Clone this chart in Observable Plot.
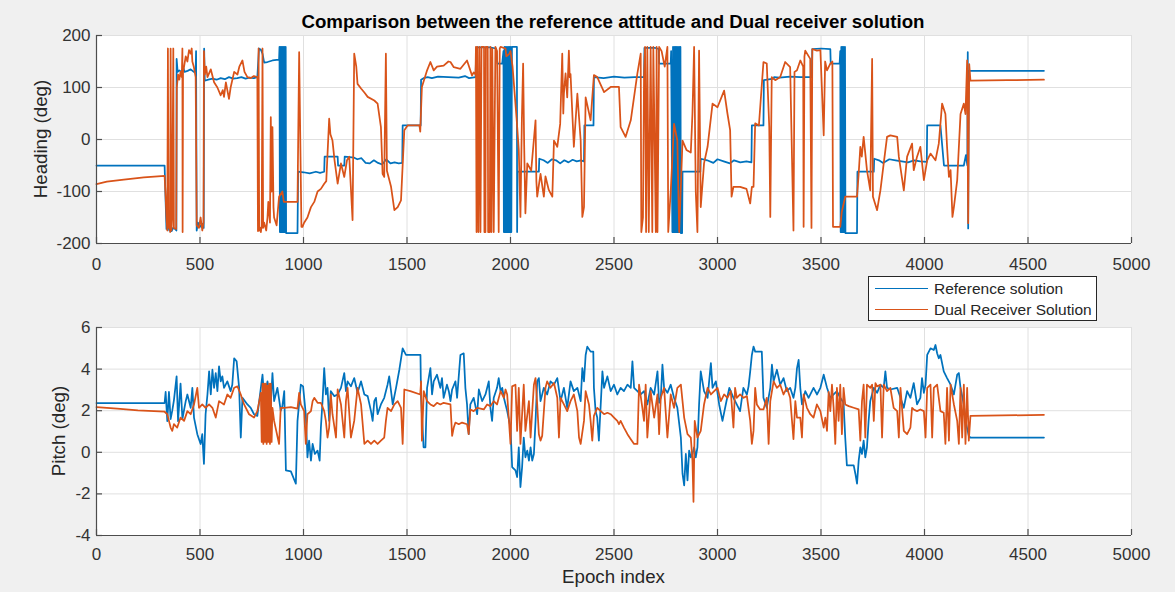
<!DOCTYPE html>
<html>
<head>
<meta charset="utf-8">
<script src="https://cdn.jsdelivr.net/npm/d3@7"></script>
<script src="https://cdn.jsdelivr.net/npm/@observablehq/plot@0.6"></script>
<style>
  html, body { margin: 0; padding: 0; background: #f0f0f0; }
  #fig { position: relative; width: 1175px; height: 592px; background: #f0f0f0; overflow: hidden;
         font-family: "Liberation Sans", Arial, Helvetica, sans-serif; color: #262626; }
  .abs { position: absolute; white-space: nowrap; }
  #title { left: 113px; width: 1000px; top: 11px; text-align: center; font-weight: bold; font-size: 18.7px; line-height: 22px; color: #000; }
  .ylab { font-size: 18.7px; transform: translate(-50%, -50%) rotate(-90deg); line-height: 22px; }
  #xlab { font-size: 18.7px; transform: translate(-50%, -50%); line-height: 22px; left: 613.5px; top: 577px; }
  #legend { left: 868px; top: 276px; width: 229px; height: 45px; background: #fff; border: 1px solid #262626; box-sizing: border-box; font-size: 15.5px; }
  .lrow { position: absolute; left: 0; height: 20px; line-height: 20px; }
  .lline { position: absolute; left: 6px; top: 9px; width: 53px; height: 0; border-top: 1.7px solid; }
  .ltext { position: absolute; left: 65px; top: 0; }
  #top, #bottom { position: absolute; left: 0; }
  #top { top: 0; }
  #bottom { top: 270px; }
</style>
</head>
<body>
<div id="fig">
  <div id="top"></div>
  <div id="bottom"></div>
  <div id="title" class="abs">Comparison between the reference attitude and Dual receiver solution</div>
  <div class="abs ylab" style="left:41px; top:139px;">Heading (deg)</div>
  <div class="abs ylab" style="left:59px; top:431px;">Pitch (deg)</div>
  <div id="xlab" class="abs">Epoch index</div>
  <div id="legend" class="abs"></div>
</div>
<script>
// ---------- tick values ----------
const epochTicks = [0, 500, 1000, 1500, 2000, 2500, 3000, 3500, 4000, 4500, 5000];
const headingTicks = [-200, -100, 0, 100, 200];
const pitchTicks = [-4, -2, 0, 2, 4, 6];

// ---------- legend / series names ----------
const seriesNames = ["Reference solution", "Dual Receiver Solution"];
const seriesColors = ["#0072BD", "#D95319"];

// ---------- Heading: reference solution [epoch, deg] ----------
const headingReference = [
[0,-50],[329,-50],[334,-120],[338,-172],[345,-165],[352,-175],[358,-160],[363,-176],[370,-170],[380,-172],[386,-175],[387,155],[392,130],[400,133],[410,130],[420,138],[425,130],[440,132],[455,135],[470,130],[479,132],[481,170],[484,-175],[490,-160],[500,-168],[510,-162],[518,-170],[520,175],[523,113],[540,115],[560,117],[580,115],[600,118],[620,116],[640,120],[660,117],[680,118],[700,120],[720,117],[740,119],[760,118],[777,120],[785,175],[795,172],[802,165],[810,148],[826,149],[850,152],[870,153],[882,153],
[884,178],[886,-178],[889,178],[891,-178],[894,178],[896,-178],[899,178],[901,-178],[904,178],[906,-178],[909,178],[911,-178],[914,178],[916,-180],
[971,-180],[974,-62],[1000,-63],[1030,-65],[1060,-62],[1080,-64],[1100,-62],[1102,-33],[1165,-33],[1167,-50],[1197,-50],[1199,-33],[1245,-35],[1260,-38],[1280,-36],[1300,-45],[1320,-46],[1340,-40],[1360,-45],[1380,-48],[1400,-38],[1420,-46],[1440,-44],[1460,-46],[1477,-45],[1479,27],[1566,27],
[1568,115],[1580,118],[1600,120],[1620,118],[1650,121],[1700,120],[1750,119],[1780,122],[1800,118],[1831,120],[1835,177],[1900,177],[1930,175],[1937,146],[1960,146],[1966,170],
[1968,-178],[1971,178],[1974,-178],[1977,178],[1980,-178],[1983,178],[1986,-178],[1989,178],[1992,-178],[1995,178],[1998,-178],[2001,178],[2004,-178],[2007,178],
[2031,178],[2032,-178],[2034,-62],[2137,-62],[2139,-37],[2160,-40],[2180,-45],[2200,-38],[2220,-40],[2240,-46],[2260,-40],[2280,-44],[2300,-39],[2320,-42],[2340,-40],[2355,-42],[2357,27],[2401,27],[2403,120],[2450,118],[2500,121],[2550,119],[2600,120],[2645,120],[2647,176],[2700,176],[2716,174],[2718,146],[2774,146],[2776,170],
[2782,-178],[2785,178],[2788,-178],[2791,178],[2794,-178],[2797,178],[2800,-178],[2803,178],[2806,-178],[2809,178],[2812,-178],[2815,178],[2818,-178],[2821,178],
[2823,-180],[2829,-180],[2831,-62],[2917,-62],[2919,-37],[2950,-40],[2980,-45],[3000,-38],[3030,-42],[3060,-46],[3080,-40],[3110,-44],[3140,-42],[3164,-44],[3166,27],[3222,27],[3224,114],[3271,117],[3273,120],[3300,119],[3350,121],[3400,120],[3456,120],[3458,174],[3500,175],[3545,174],[3547,146],[3590,146],[3593,170],
[3595,-178],[3598,178],[3601,-178],[3604,178],[3607,-178],[3610,178],[3613,-178],[3616,178],
[3618,-180],[3674,-180],[3676,-62],[3755,-62],[3757,-37],[3780,-40],[3800,-45],[3830,-38],[3860,-40],[3890,-42],[3920,-44],[3950,-40],[3980,-42],[4011,-43],[4013,27],[4077,27],[4094,-50],[4190,-50],[4200,-30],[4207,-50],[4209,168],[4211,-171],[4214,132],[4577,132]
];

// ---------- Heading: dual receiver solution [epoch, deg] ----------
const headingDual = [
[0,-86],[50,-81],[132,-77],[229,-73],[329,-70],[334,-110],[338,-150],[342,-175],[345,175],[348,-170],[352,-160],[356,-178],[358,175],[362,-175],[366,-150],[371,175],[374,-170],[385,-172],[388,100],[394,125],[400,115],[406,130],[412,120],[415,175],[416,-178],[418,130],[423,140],[431,160],[439,150],[447,172],[455,165],[460,175],[463,150],[470,140],[479,120],[484,-165],[495,-170],[503,-150],[511,-175],[517,-160],[519,170],[523,125],[530,140],[536,120],[552,135],[568,110],[584,100],[600,85],[610,95],[616,82],[625,110],[640,78],[648,100],[665,130],[681,125],[690,140],[705,152],[715,130],[729,120],[745,118],[760,122],[777,120],
[780,-176],[783,175],[786,-175],[790,-170],[794,-178],[798,-165],[802,175],[805,-170],[810,-160],[820,-175],[826,-150],[830,-120],[838,-160],[842,43],[846,-100],[850,24],[855,-130],[858,-150],[870,-165],[882,-110],[898,-100],[905,-120],[971,-120],[979,168],[990,-168],[995,-168],[1003,-160],[1019,-150],[1036,-130],[1052,-120],[1068,-100],[1084,-95],[1100,-85],[1110,-80],[1124,40],[1130,10],[1140,-2],[1150,-40],[1165,-85],[1181,-46],[1197,-72],[1210,-40],[1221,-33],[1237,-155],[1245,165],[1255,140],[1261,107],[1278,98],[1295,90],[1310,82],[1342,75],[1358,69],[1374,24],[1382,-66],[1390,-72],[1398,165],[1403,-60],[1423,-91],[1439,-136],[1455,-130],[1471,-117],[1487,18],[1503,27],[1516,27],[1560,27],[1564,15],[1572,101],[1597,133],[1613,149],[1629,133],[1645,140],[1677,142],[1700,150],[1710,149],[1726,139],[1758,136],[1790,152],[1814,123],[1822,129],[1831,125],
[1833,178],[1836,-178],[1840,178],[1845,-178],[1850,178],[1855,-178],[1860,178],[1872,178],[1874,-178],[1879,-178],[1881,178],[1890,178],[1892,-178],[1900,-178],[1903,178],[1908,-178],[1912,175],[1919,-178],[1927,178],[1935,170],[1943,-178],[1948,175],[1952,178],[1976,175],[1980,160],[1995,165],[2000,170],
[2010,140],[2029,43],[2040,-20],[2048,-149],[2055,40],[2061,146],[2066,-10],[2072,-142],[2081,-46],[2100,-60],[2121,37],[2125,-80],[2129,-110],[2145,-66],[2161,-110],[2169,-71],[2185,-97],[2202,-110],[2210,-2],[2226,-14],[2240,30],[2250,165],[2255,50],[2258,88],[2266,127],[2274,81],[2282,171],[2286,120],[2290,126],[2306,-14],[2323,88],[2339,-2],[2347,-149],[2355,-130],[2363,81],[2387,37],[2403,124],[2419,120],[2452,91],[2484,101],[2524,101],[2532,24],[2556,5],[2581,37],[2597,82],[2613,127],[2629,165],[2632,-178],[2640,-150],[2645,120],[2650,178],[2655,-178],[2661,178],[2668,-178],[2677,178],[2685,-178],[2690,178],[2702,-178],[2706,178],[2710,-178],[2718,178],[2730,170],[2745,140],[2758,178],[2762,-178],[2774,-100],[2790,30],[2806,-2],[2815,-178],[2831,-2],[2850,-20],[2871,-25],[2879,50],[2887,178],[2895,-100],[2903,-178],[2911,171],[2919,-130],[2935,-46],[2952,-14],[2976,69],[3000,62],[3032,94],[3048,50],[3061,18],[3068,-110],[3077,-91],[3109,-91],[3140,-95],[3158,-123],[3166,-91],[3174,-91],[3182,31],[3200,27],[3222,149],[3238,146],[3250,24],[3255,-149],[3262,120],[3279,114],[3303,120],[3327,149],[3351,139],[3367,-175],[3372,130],[3384,133],[3400,152],[3414,140],[3416,-168],[3420,160],[3424,171],[3448,155],[3454,-170],[3458,174],[3480,171],[3497,172],[3513,8],[3520,150],[3529,133],[3545,146],[3555,150],[3558,-168],[3593,-168],[3600,-140],[3617,-110],[3674,-110],[3682,-66],[3690,-14],[3697,-33],[3706,5],[3722,-59],[3738,-98],[3747,155],[3751,-110],[3771,-136],[3787,-98],[3803,-46],[3819,5],[3835,8],[3868,5],[3876,-33],[3900,-98],[3916,-33],[3940,-8],[3948,-59],[3964,-33],[3980,-14],[3997,-78],[4013,-40],[4029,-27],[4053,-40],[4069,-8],[4085,69],[4101,49],[4109,-14],[4118,-72],[4126,-59],[4135,-149],[4142,-130],[4158,-78],[4174,49],[4190,69],[4198,49],[4206,152],[4211,-161],[4216,145],[4222,113],[4400,114],[4577,115]
];

// ---------- Pitch: reference solution [epoch, deg] ----------
const pitchReference = [
[0,2.37],[329,2.37],[334,2.9],[342,1.5],[350,2.9],[358,1.6],[366,2.0],[374,2.5],[387,3.65],[394,1.5],[400,2.4],[406,3.3],[415,1.6],[431,2.46],[439,2.78],[455,2.14],[463,3.1],[471,1.67],[487,0.87],[503,0.4],[511,0.87],[519,-0.56],[527,1.83],[536,2.78],[544,3.89],[552,2.78],[560,3.97],[568,3.1],[576,3.81],[584,2.94],[592,4.13],[600,3.41],[608,3.65],[616,3.1],[632,3.41],[648,2.94],[656,3.25],[665,4.52],[677,4.37],[689,3.1],[697,0.71],[705,2.62],[729,2.3],[745,2.14],[761,1.83],[777,1.75],[786,2.46],[794,3.1],[802,3.73],[810,2.62],[826,3.41],[842,2.3],[850,3.81],[858,2.46],[874,3.1],[890,2.0],[898,2.22],[907,2.94],[915,-0.87],[939,-0.92],[963,-1.51],[971,1.51],[987,3.25],[998,3.17],[1011,1.83],[1019,-0.24],[1027,0.56],[1036,-0.4],[1044,0.4],[1055,-0.08],[1068,0.08],[1078,-0.4],[1084,1.19],[1092,2.46],[1100,4.05],[1108,2.78],[1116,3.1],[1124,1.51],[1132,2.94],[1149,2.7],[1165,2.78],[1181,3.1],[1197,3.81],[1205,2.94],[1213,3.41],[1229,3.17],[1245,3.57],[1261,2.86],[1278,3.41],[1294,2.78],[1310,2.7],[1326,1.98],[1334,1.51],[1342,2.46],[1350,2.62],[1358,1.83],[1374,2.3],[1390,2.62],[1406,3.25],[1414,3.65],[1431,2.3],[1447,3.1],[1463,3.97],[1479,5.0],[1495,4.68],[1565,4.68],
[1568,2.62],[1580,0.24],[1589,0.24],[1597,3.1],[1613,4.05],[1621,2.78],[1629,3.41],[1645,3.73],[1661,3.1],[1669,3.57],[1677,2.62],[1693,3.25],[1702,2.94],[1710,2.46],[1718,3.02],[1734,3.41],[1742,2.62],[1758,4.68],[1774,4.76],[1782,3.1],[1790,2.3],[1798,0.87],[1806,2.3],[1822,2.62],[1839,1.83],[1847,3.02],[1863,2.46],[1879,2.78],[1895,3.41],[1903,2.14],[1911,1.51],[1919,2.62],[1935,3.1],[1943,3.57],[1952,2.94],[1960,3.1],[1968,2.62],[1984,1.98],[2000,1.19],[2008,-0.71],[2024,-0.87],[2032,-1.19],[2040,0.24],[2048,-1.67],[2056,-0.71],[2064,0.71],[2072,-0.24],[2081,0.08],[2089,-0.4],[2097,0.24],[2105,-0.4],[2113,-0.08],[2121,1.51],[2129,3.41],[2137,3.57],[2145,2.46],[2161,3.1],[2177,2.78],[2193,3.41],[2210,3.25],[2226,3.57],[2242,2.46],[2258,3.1],[2274,2.14],[2290,3.41],[2306,2.94],[2323,3.1],[2339,2.46],[2347,4.05],[2355,3.41],[2363,4.68],[2371,5.08],[2387,4.84],[2400,4.84],[2403,3.1],[2411,1.98],[2419,1.67],[2427,0.56],[2444,3.89],[2452,3.1],[2468,3.65],[2484,2.94],[2500,3.25],[2516,2.78],[2532,3.1],[2548,2.94],[2565,3.25],[2581,3.1],[2589,4.37],[2597,3.1],[2613,2.94],[2629,2.78],[2645,2.94],[2661,2.3],[2677,3.1],[2694,2.78],[2710,3.89],[2718,2.38],[2726,2.62],[2734,4.21],[2742,3.1],[2758,2.86],[2774,3.25],[2790,2.62],[2806,2.14],[2823,0.71],[2831,-1.03],[2839,-1.59],[2847,-0.08],[2855,-1.35],[2863,0.08],[2871,-0.24],[2879,-0.08],[2887,0.24],[2895,-0.24],[2903,0.24],[2911,2.3],[2919,3.89],[2935,2.94],[2952,2.62],[2968,4.29],[2976,3.1],[2992,3.41],[3008,2.3],[3024,1.51],[3040,2.3],[3057,3.1],
[3077,2.62],[3093,2.3],[3109,1.98],[3125,3.1],[3142,2.78],[3150,3.17],[3158,3.89],[3166,4.68],[3174,5.08],[3182,4.84],[3214,4.84],[3222,2.62],[3238,2.14],[3255,3.1],[3263,4.21],[3271,3.41],[3287,3.97],[3303,3.25],[3319,3.57],[3335,2.94],[3351,3.1],[3367,2.62],[3376,3.1],[3384,4.05],[3392,4.44],[3400,3.1],[3408,2.3],[3424,2.94],[3440,2.62],[3464,3.1],[3481,2.78],[3497,3.1],[3513,3.73],[3529,3.1],[3545,2.62],[3561,2.78],[3577,2.94],[3593,2.62],[3609,2.38],[3617,0.71],[3625,-0.63],[3658,-0.63],[3666,-1.03],[3674,-1.51],[3682,-0.4],[3690,0.24],[3698,-0.08],[3706,0.56],[3714,-0.24],[3722,0.24],[3730,1.51],[3738,2.46],[3755,3.1],[3771,2.86],[3787,3.25],[3803,3.1],[3811,3.89],[3819,3.1],[3835,3.02],[3868,3.1],[3884,2.62],[3900,2.14],[3916,2.94],[3932,2.62],[3948,3.33],[3964,2.3],[3980,2.62],[3988,3.57],[3997,2.86],[4005,3.25],[4013,4.68],[4029,5.0],[4045,4.92],[4053,5.16],[4061,4.76],[4069,4.52],[4077,4.68],[4093,3.89],[4109,3.57],[4126,3.25],[4142,2.78],[4158,3.73],[4166,3.81],[4174,3.1],[4190,2.3],[4198,1.51],[4214,0.79],[4222,0.71],[4577,0.71]
];

// ---------- Pitch: dual receiver solution [epoch, deg] ----------
const pitchDual = [
[0,2.17],[100,2.1],[200,2.02],[329,1.95],[342,1.83],[350,1.51],[358,1.19],[366,1.03],[374,1.35],[390,1.19],[406,1.67],[423,1.51],[439,1.98],[455,1.83],[471,2.3],[487,3.1],[495,2.14],[511,2.3],[527,2.14],[544,2.3],[560,2.14],[576,1.67],[592,2.46],[616,2.3],[632,2.78],[648,2.62],[665,3.1],[681,3.17],[697,2.78],[713,2.3],[737,1.83],[761,1.67],[777,1.98],[794,2.86],
[798,0.5],[802,3.3],[806,0.4],[810,3.3],[814,0.5],[818,3.3],[822,0.4],[826,3.2],[830,0.5],[834,3.3],[838,0.4],[842,3.3],[846,0.5],[850,2.14],
[858,1.51],[882,0.4],[890,2.14],[907,2.14],[939,2.17],[971,2.1],[979,2.86],[987,2.3],[1003,1.98],[1011,0.4],[1019,1.83],[1036,1.98],[1044,2.46],[1052,2.62],[1068,2.38],[1084,2.38],[1100,1.98],[1108,1.51],[1116,0.71],[1124,1.19],[1132,2.78],[1140,1.83],[1157,0.71],[1165,3.02],[1181,2.3],[1197,0.71],[1205,2.46],[1213,3.1],[1229,0.71],[1245,1.51],[1261,3.1],[1278,2.3],[1294,0.4],[1310,0.56],[1326,0.4],[1342,0.56],[1358,0.4],[1374,0.56],[1390,0.71],[1398,1.51],[1406,2.14],[1423,1.98],[1439,2.3],[1455,2.46],[1471,2.14],[1479,0.4],[1487,3.02],[1516,2.94],[1564,2.78],
[1568,3.41],[1572,0.56],[1581,2.94],[1597,2.46],[1613,2.3],[1629,2.22],[1645,2.38],[1661,2.3],[1677,2.38],[1710,2.3],[1718,0.79],[1726,1.19],[1734,1.43],[1750,1.35],[1766,1.43],[1790,1.35],[1798,0.87],[1806,2.06],[1822,1.98],[1839,2.14],[1871,2.06],[1887,2.3],[1903,2.22],[1919,2.46],[1935,2.3],[1952,2.94],[1968,2.62],[1976,3.02],[1984,2.78],[2000,0.4],[2008,3.17],[2024,3.25],[2032,1.03],[2040,3.1],[2048,0.4],[2064,3.25],[2072,1.03],[2089,2.46],[2097,0.71],[2113,3.25],[2121,3.57],[2129,2.3],[2137,0.87],[2145,0.56],[2153,0.79],[2169,3.1],[2177,3.41],[2193,3.1],[2210,3.33],[2226,2.62],[2234,0.71],[2242,2.62],[2258,2.3],[2274,1.98],[2290,2.46],[2306,2.78],[2323,1.98],[2331,0.71],[2339,0.4],[2355,1.51],[2363,2.94],[2379,2.3],[2387,1.51],[2395,0.56],[2403,1.75],[2419,2.14],[2436,1.98],[2452,1.83],[2468,1.9],[2484,1.83],[2500,1.67],[2516,1.51],[2524,1.35],[2532,1.51],[2548,1.19],[2565,0.87],[2581,0.63],[2597,0.4],[2613,0.4],[2621,3.25],[2637,2.14],[2645,1.51],[2653,3.25],[2661,0.71],[2677,2.94],[2694,1.67],[2710,2.78],[2718,0.87],[2726,2.62],[2742,3.1],[2758,0.71],[2774,2.78],[2790,2.14],[2806,3.1],[2823,3.25],[2839,1.67],[2855,0.87],[2871,0.71],[2879,-0.4],[2884,-2.38],[2890,1.51],[2903,0.71],[2919,1.03],[2935,2.3],[2952,3.1],[2968,2.78],[2984,2.94],[3000,3.1],[3016,2.46],[3032,2.78],[3048,2.62],[3064,2.94],[3077,1.19],[3085,3.1],[3093,2.62],[3109,2.78],[3126,2.62],[3142,2.7],[3158,1.51],[3166,0.4],[3174,1.03],[3182,3.1],[3190,2.3],[3206,2.06],[3222,2.06],[3238,2.62],[3247,0.4],[3255,2.46],[3271,3.41],[3287,3.1],[3303,3.25],[3319,2.78],[3335,3.1],[3351,2.62],[3367,0.63],[3376,2.46],[3384,1.67],[3400,1.67],[3408,0.71],[3416,2.78],[3432,2.14],[3448,1.83],[3464,1.67],[3480,2.3],[3497,1.98],[3513,1.19],[3521,1.67],[3529,1.03],[3537,2.9],[3545,1.98],[3553,3.25],[3561,2.14],[3569,0.4],[3577,3.1],[3585,1.51],[3593,3.25],[3601,0.87],[3609,3.1],[3617,2.3],[3634,2.22],[3658,2.14],[3682,2.06],[3690,0.56],[3698,2.46],[3706,3.25],[3714,0.71],[3722,3.25],[3738,3.1],[3747,3.25],[3755,1.51],[3763,3.33],[3771,3.17],[3787,3.25],[3795,0.71],[3803,3.25],[3819,2.94],[3835,3.1],[3851,2.14],[3868,1.98],[3876,0.71],[3884,3.1],[3900,1.03],[3916,0.87],[3932,1.19],[3940,2.14],[3948,2.06],[3964,1.98],[3980,2.06],[3997,1.98],[4005,0.71],[4013,3.1],[4029,3.25],[4037,0.71],[4045,3.1],[4061,3.25],[4077,1.98],[4093,1.9],[4101,0.4],[4109,3.1],[4118,0.56],[4126,3.25],[4142,2.3],[4158,1.51],[4166,0.4],[4174,3.1],[4182,0.71],[4190,3.25],[4198,0.4],[4206,3.1],[4214,0.56],[4222,1.75],[4577,1.8]
];

// ---------- drawing ----------
const axisColor = "#4d4d4d";
const gridColor = "#e0e0e0";
const fmt = d => String(d);

function panel({ref, dual, yDomain, yTicks, height, marginTop, marginBottom, xPadding}) {
  const yMin = yDomain[0];
  return Plot.plot({
    width: 1175,
    height,
    marginLeft: 96,
    marginRight: 44,
    marginTop,
    marginBottom,
    style: {background: "transparent", fontFamily: "'Liberation Sans', Arial, Helvetica, sans-serif", fontSize: "17px", color: "#262626", overflow: "visible"},
    x: {domain: [0, 5000]},
    y: {domain: yDomain},
    marks: [
      Plot.frame({fill: "white", stroke: null}),
      Plot.gridX(epochTicks, {stroke: gridColor, strokeOpacity: 1}),
      Plot.gridY(yTicks, {stroke: gridColor, strokeOpacity: 1}),
      Plot.line(ref, {x: d => d[0], y: d => d[1], stroke: seriesColors[0], strokeWidth: 1.75}),
      Plot.line(dual, {x: d => d[0], y: d => d[1], stroke: seriesColors[1], strokeWidth: 1.75}),
      Plot.ruleY([yMin], {stroke: axisColor, strokeWidth: 1.2}),
      Plot.ruleX([0], {stroke: axisColor, strokeWidth: 1.2}),
      Plot.ruleX(epochTicks, {x: d => d, y1: yMin, y2: yMin, insetTop: -6, stroke: axisColor, strokeWidth: 1.2}),
      Plot.ruleY(yTicks, {y: d => d, x1: 0, x2: 0, insetRight: -6, stroke: axisColor, strokeWidth: 1.2}),
      Plot.axisX(epochTicks, {tickSize: 0, tickPadding: xPadding, tickFormat: fmt, label: null, fill: "#333"}),
      Plot.axisY(yTicks, {tickSize: 0, tickPadding: 6, tickFormat: fmt, label: null, fill: "#333"})
    ]
  });
}

document.getElementById("top").appendChild(panel({
  ref: headingReference, dual: headingDual, yDomain: [-200, 200], yTicks: headingTicks,
  height: 270, marginTop: 35, marginBottom: 27, xPadding: 14
}));
document.getElementById("bottom").appendChild(panel({
  ref: pitchReference, dual: pitchDual, yDomain: [-4, 6], yTicks: pitchTicks,
  height: 300, marginTop: 57, marginBottom: 35, xPadding: 12
}));

// legend
const legend = document.getElementById("legend");
seriesNames.forEach((name, i) => {
  const row = document.createElement("div");
  row.className = "lrow";
  row.style.top = (2 + i * 21) + "px";
  row.style.width = "100%";
  const ln = document.createElement("div");
  ln.className = "lline";
  ln.style.borderTopColor = seriesColors[i];
  const tx = document.createElement("div");
  tx.className = "ltext";
  tx.textContent = name;
  row.appendChild(ln);
  row.appendChild(tx);
  legend.appendChild(row);
});
</script>
</body>
</html>
